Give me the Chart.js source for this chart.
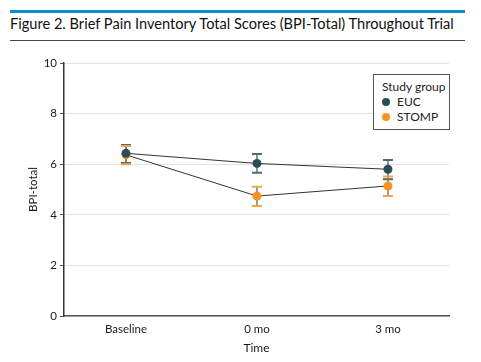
<!DOCTYPE html>
<html>
<head>
<meta charset="utf-8">
<script src="https://cdn.jsdelivr.net/npm/chart.js@4.4.1/dist/chart.umd.min.js"></script>
<style>
  body { margin: 0; background: #fff; font-family: Lato, "Noto Sans", sans-serif; }
  #wrap { position: relative; width: 481px; height: 362px; }
  #bar { position: absolute; left: 10px; top: 10px; width: 455px; height: 3px; background: #0a8ec9; }
  #title { position: absolute; left: 10px; top: 15px; font-size: 14.6px; color: #111; white-space: nowrap; }
  #rule { position: absolute; left: 10px; top: 40px; width: 455px; height: 1px; background: #444; }
  #chartBox { position: absolute; left: 0; top: 42px; width: 481px; height: 320px; }
  #legend { position: absolute; left: 373px; top: 74px; width: 77px; height: 56px; border: 1px solid #555;
    background: #fff; font-size: 12px; color: #222; padding: 4px 0 0 8px; box-sizing: border-box; line-height: 15px; }
  .dot { display: inline-block; width: 8px; height: 8px; border-radius: 50%; margin-right: 7px; vertical-align: 0px; }
</style>
</head>
<body>
<div id="wrap">
  <div id="bar"></div>
  <div id="title">Figure 2. Brief Pain Inventory Total Scores (BPI-Total) Throughout Trial</div>
  <div id="rule"></div>
  <div id="chartBox"><canvas id="chart" width="481" height="320"></canvas></div>
  <div id="legend">
    <div>Study group</div>
    <div><span class="dot" style="background:#2b4d59"></span>EUC</div>
    <div><span class="dot" style="background:#f7941d"></span>STOMP</div>
  </div>
</div>
<script>
const timeLabels = ['Baseline', '0 mo', '3 mo'];
const eucMean = [6.43, 6.03, 5.80];
const eucLow = [6.05, 5.66, 5.41];
const eucHigh = [6.76, 6.40, 6.17];
const stompMean = [6.37, 4.74, 5.14];
const stompLow = [6.00, 4.35, 4.74];
const stompHigh = [6.72, 5.11, 5.51];
const yTicks = [0, 2, 4, 6, 8, 10];

const EUC_COLOR = '#2b4d59';
const STOMP_COLOR = '#f7941d';

function toPoints(values) {
  return values.map((v, i) => ({ x: i, y: v }));
}

const errorBars = {
  id: 'errorBars',
  beforeDatasetsDraw(chart) {
    const { ctx, scales } = chart;
    const sets = [
      { low: eucLow, high: eucHigh, stem: '#5f7478', cap: '#4d6a70' },
      { low: stompLow, high: stompHigh, stem: '#7a7a7a', cap: '#f7a440' },
    ];
    ctx.save();
    sets.forEach((s) => {
      s.low.forEach((lo, i) => {
        const x = scales.x.getPixelForValue(i);
        const yLo = scales.y.getPixelForValue(lo);
        const yHi = scales.y.getPixelForValue(s.high[i]);
        ctx.strokeStyle = s.stem;
        ctx.lineWidth = 1.5;
        ctx.beginPath();
        ctx.moveTo(x, yLo);
        ctx.lineTo(x, yHi);
        ctx.stroke();
        ctx.strokeStyle = s.cap;
        ctx.lineWidth = 2;
        ctx.beginPath();
        ctx.moveTo(x - 5, yLo); ctx.lineTo(x + 5, yLo);
        ctx.moveTo(x - 5, yHi); ctx.lineTo(x + 5, yHi);
        ctx.stroke();
      });
    });
    ctx.restore();
  },
};

new Chart(document.getElementById('chart'), {
  type: 'line',
  data: {
    datasets: [
      {
        label: 'EUC',
        data: toPoints(eucMean),
        borderColor: '#333',
        borderWidth: 1,
        pointBackgroundColor: EUC_COLOR,
        pointBorderWidth: 0,
        pointRadius: 4.5,
      },
      {
        label: 'STOMP',
        data: toPoints(stompMean),
        borderColor: '#333',
        borderWidth: 1,
        pointBackgroundColor: STOMP_COLOR,
        pointBorderWidth: 0,
        pointRadius: 4.5,
      },
    ],
  },
  options: {
    responsive: false,
    animation: false,
    layout: { padding: { top: 21, right: 32, bottom: 3, left: 22 } },
    plugins: { legend: { display: false }, tooltip: { enabled: false } },
    scales: {
      x: {
        type: 'linear',
        min: -0.473,
        max: 2.466,
        afterBuildTicks: (axis) => { axis.ticks = timeLabels.map((_, i) => ({ value: i })); },
        ticks: {
          callback: (v) => timeLabels[v],
          color: '#1a1a1a',
          font: { family: 'Lato', size: 11.5 },
          padding: 2,
          maxRotation: 0,
        },
        grid: { display: false, drawTicks: true, tickLength: 4, color: '#555' },
        border: { color: '#555', width: 1.5 },
        title: { display: true, text: 'Time', color: '#1a1a1a', font: { family: 'Lato', size: 12 }, padding: { top: 3 } },
        afterFit: (axis) => { axis.height = 43; },
      },
      y: {
        min: 0,
        max: 10,
        afterBuildTicks: (axis) => { axis.ticks = yTicks.map((v) => ({ value: v })); },
        ticks: { color: '#1a1a1a', font: { family: 'Lato', size: 11.5 }, padding: 3 },
        grid: { color: '#e3e3e3', lineWidth: 1, tickLength: 4, tickColor: '#555' },
        border: { color: '#333', width: 1.5 },
        title: { display: true, text: 'BPI-total', color: '#1a1a1a', font: { family: 'Lato', size: 11.5 }, padding: { bottom: 6 } },
        afterFit: (axis) => { axis.width = 42; },
      },
    },
  },
  plugins: [errorBars],
});
</script>
</body>
</html>
